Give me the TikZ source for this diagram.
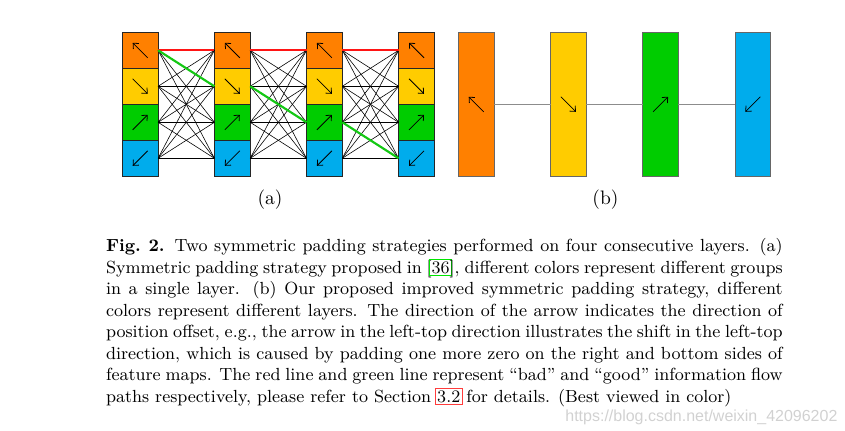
\documentclass[tikz,border=0pt]{standalone}
\usepackage{fontspec}
\newfontfamily\wmfont{Liberation Sans}
\usetikzlibrary{arrows.meta}
\definecolor{cOr}{RGB}{255,128,0}
\definecolor{cYe}{RGB}{255,204,0}
\definecolor{cGr}{RGB}{0,204,0}
\definecolor{cBl}{RGB}{0,172,236}
\definecolor{cRed}{RGB}{255,20,20}
\definecolor{cGood}{RGB}{20,200,20}
\definecolor{cLinkG}{RGB}{0,230,0}
\definecolor{cLinkR}{RGB}{255,60,60}
\newcommand\lnkbox[2]{{\setlength\fboxsep{0.8pt}\setlength\fboxrule{0.4pt}\kern-1.2pt\smash{\textcolor{#1}{\fbox{\textcolor{black}{#2}}}}\kern-1.2pt}}
\begin{document}
\begin{tikzpicture}[x=0.5128pt,y=-0.5128pt,
  cell/.style={draw=black!85,line width=0.45pt,minimum width=18.36pt,minimum height=18.46pt,inner sep=0pt,outer sep=0pt},
  bar/.style={draw=black!60,line width=0.45pt,minimum width=18.3pt,minimum height=73.6pt,inner sep=0pt,outer sep=0pt},
  dir/.style={line width=0.4pt,-{Straight Barb[length=2.2pt,width=4pt]}},
  link/.style={line width=0.3pt,black},
  bad/.style={line width=1.1pt,cRed},
  good/.style={line width=1.1pt,cGood},
  blink/.style={line width=0.6pt,black!45},
  sublabel/.style={font=\fontsize{10}{12}\selectfont,inner sep=0pt}]
\useasboundingbox (0,0) rectangle (845,431);
% panel (a)
\foreach \c in {1,...,4} {
  \foreach \r/\col/\sx/\sy/\ex/\ey in {1/cOr/7.5/7.5/-7.5/-7.5, 2/cYe/-7.5/-7.5/7.5/7.5, 3/cGr/-7.5/7.5/7.5/-7.5, 4/cBl/7.5/-7.5/-7.5/7.5} {
    \node[cell,fill=\col] (a\c\r) at ({140.2+92.1*(\c-1)},{50.3+36*(\r-1)}) {};
    \draw[dir] ([shift={(\sx,\sy)}]a\c\r.center) -- ([shift={(\ex,\ey)}]a\c\r.center);
  }
}
\foreach \c in {1,2,3} {
  \pgfmathtruncatemacro\d{\c+1}
  \foreach \r in {1,...,4} {
    \foreach \s in {1,...,4} {
      \draw[link] (a\c\r.east) -- (a\d\s.west);
    }
  }
}
\draw[bad] (a11.east) -- (a21.west);
\draw[bad] (a21.east) -- (a31.west);
\draw[bad] (a31.east) -- (a41.west);
\draw[good] (a11.east) -- (a22.west);
\draw[good] (a22.east) -- (a33.west);
\draw[good] (a33.east) -- (a44.west);
% panel (b)
\foreach \i/\col/\sx/\sy/\ex/\ey in {1/cOr/7.5/7.5/-7.5/-7.5, 2/cYe/-7.5/-7.5/7.5/7.5, 3/cGr/-7.5/7.5/7.5/-7.5, 4/cBl/7.5/-7.5/-7.5/7.5} {
  \node[bar,fill=\col] (b\i) at ({476.2+92.2*(\i-1)},104.3) {};
  \draw[dir] ([shift={(\sx,\sy)}]b\i.center) -- ([shift={(\ex,\ey)}]b\i.center);
}
\draw[blink] (b1.east) -- (b2.west);
\draw[blink] (b2.east) -- (b3.west);
\draw[blink] (b3.east) -- (b4.west);
% labels
\node[sublabel] (la) at (270,200) {(a)};
\node[sublabel] (lb) at (605.5,200) {(b)};
% caption
\node[anchor=base west,inner sep=0pt,outer sep=0pt,text width=347pt,align=justify,font=\fontsize{9}{11}\selectfont] (cap) at (106,252)
{\rightskip=0pt\parfillskip=0pt plus 1fil\hyphenpenalty=10000\emergencystretch=0pt
\textbf{Fig.~2.} Two symmetric padding strategies performed on four consecutive layers. (a)\linebreak
Symmetric padding strategy proposed in [\lnkbox{cLinkG}{36}], different colors represent different groups\linebreak
in a single layer. (b) Our proposed improved symmetric padding strategy, different\linebreak
colors represent different layers. The direction of the arrow indicates the direction of\linebreak
position offset, e.g., the arrow in the left-top direction illustrates the shift in the left-top\linebreak
direction, which is caused by padding one more zero on the right and bottom sides of\linebreak
feature maps. The red line and green line represent ``bad'' and ``good'' information flow\linebreak
paths respectively, please refer to Section \lnkbox{cLinkR}{3.2} for details. (Best viewed in color)\par};
% watermark
\node[anchor=base west,inner sep=0pt,font=\wmfont\fontsize{8.2}{10}\selectfont,text=black!18] (wm) at (565,421) {https://blog.csdn.net/weixin\_42096202};
\end{tikzpicture}
\end{document}
